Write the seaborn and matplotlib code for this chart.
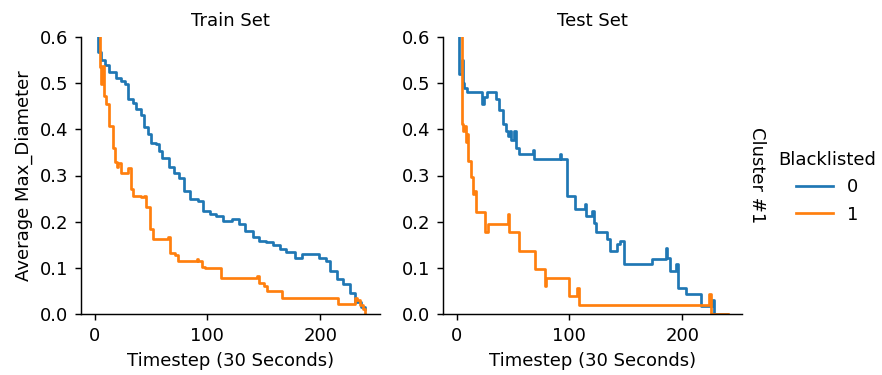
import numpy as np
import pandas as pd
import matplotlib
matplotlib.use("Agg")
import matplotlib.pyplot as plt
import seaborn as sns

# ── Data: change points (timestep, average max diameter) ──────────────────
train_0_t = [0, 3, 6, 9, 13, 19, 23, 27, 29.5, 34, 37, 41, 44, 47, 50, 54, 57, 60, 66, 70,
             75, 79, 85, 92, 96, 102, 108, 114, 122, 128, 133, 140, 146, 152, 158, 164,
             170, 178, 184, 194, 199, 205, 209, 215, 220, 226, 231, 236, 240]
train_0_v = [0.80, 0.567, 0.55, 0.54, 0.525, 0.512, 0.505, 0.498, 0.465, 0.458, 0.443,
             0.43, 0.404, 0.39, 0.371, 0.368, 0.352, 0.338, 0.318, 0.305, 0.295, 0.267,
             0.249, 0.245, 0.224, 0.216, 0.212, 0.202, 0.205, 0.195, 0.18, 0.166, 0.158,
             0.155, 0.15, 0.14, 0.135, 0.122, 0.13, 0.131, 0.122, 0.115, 0.093, 0.075,
             0.064, 0.046, 0.025, 0.015, 0.01]

train_1_t = [0, 4.5, 5.5, 7, 8.5, 10, 12.5, 16.5, 18, 19.5, 21, 23, 30, 32, 34, 41, 44,
             46, 49, 52, 65, 67, 71, 74, 91, 92, 95, 98, 112, 144, 146, 150, 153, 166,
             216, 231, 233, 235, 238, 240]
train_1_v = [0.80, 0.535, 0.498, 0.538, 0.472, 0.455, 0.407, 0.36, 0.33, 0.318, 0.327,
             0.305, 0.316, 0.271, 0.256, 0.253, 0.256, 0.231, 0.184, 0.162, 0.166, 0.133,
             0.128, 0.115, 0.12, 0.115, 0.101, 0.099, 0.079, 0.083, 0.068, 0.060, 0.050,
             0.035, 0.021, 0.035, 0.03, 0.02, 0.01, 0.0]

test_0_t = [0, 2, 2.5, 4.5, 5.5, 6.5, 9.5, 23, 24.5, 27, 35, 38, 41, 44, 46, 47, 48.5,
            51, 52.5, 55, 67.5, 68.5, 91.5, 92.5, 97.5, 105, 114, 115, 120, 122, 124,
            133, 136, 142, 145, 148.5, 173, 185.5, 186.5, 189, 194.5, 196, 203, 217,
            226.5, 228, 240]
test_0_v = [0.80, 0.65, 0.52, 0.55, 0.50, 0.49, 0.48, 0.455, 0.47, 0.48, 0.466, 0.441,
            0.412, 0.397, 0.386, 0.397, 0.376, 0.397, 0.36, 0.347, 0.355, 0.336, 0.347,
            0.336, 0.256, 0.227, 0.238, 0.213, 0.224, 0.198, 0.177, 0.162, 0.137, 0.151,
            0.158, 0.108, 0.119, 0.144, 0.122, 0.093, 0.108, 0.057, 0.043, 0.017, 0.03,
            0.0, 0.0]

test_1_t = [0, 3, 4.5, 5.5, 6.5, 8, 9, 10.5, 13, 14.5, 15.5, 17, 25, 28, 45.5, 46.5,
            55, 70, 78, 79, 99.5, 107, 108.5, 224, 225.5, 241]
test_1_v = [0.80, 0.65, 0.412, 0.397, 0.408, 0.372, 0.39, 0.332, 0.296, 0.26, 0.267,
            0.22, 0.177, 0.196, 0.216, 0.177, 0.137, 0.097, 0.061, 0.079, 0.039, 0.057,
            0.02, 0.043, 0.0, 0.0]

series = [
    ("Train Set", "0", train_0_t, train_0_v),
    ("Train Set", "1", train_1_t, train_1_v),
    ("Test Set", "0", test_0_t, test_0_v),
    ("Test Set", "1", test_1_t, test_1_v),
]

frames = []
for set_name, bl, t, v in series:
    frames.append(pd.DataFrame({
        "Set": set_name,
        "Cluster": "Cluster #1",
        "Blacklisted": bl,
        "Timestep (30 Seconds)": t,
        "Average Max_Diameter": v,
    }))
df = pd.concat(frames, ignore_index=True)

# ── Plot ───────────────────────────────────────────────────────────────────
DPI = 130
g = sns.relplot(
    data=df, kind="line",
    x="Timestep (30 Seconds)", y="Average Max_Diameter",
    col="Set", row="Cluster", hue="Blacklisted",
    col_order=["Train Set", "Test Set"], hue_order=["0", "1"],
    palette=["#1f77b4", "#ff7f0e"],
    drawstyle="steps-post", estimator=None,
    facet_kws=dict(margin_titles=True, sharey=False),
    height=2.8, aspect=1.0,
)
g.set_titles(col_template="{col_name}", row_template="{row_name}")
g.set(ylim=(0, 0.6), yticks=np.arange(0, 0.61, 0.1), xticks=[0, 100, 200])

fig = g.figure
fig.set_size_inches(882 / DPI, 375 / DPI)
fig.subplots_adjust(left=81 / 882, right=742 / 882, bottom=1 - 314 / 375,
                    top=1 - 37 / 375, wspace=0.21)
g._legend.set_bbox_to_anchor((1.012, 0.5), transform=fig.transFigure)
fig.savefig("out.png", dpi=DPI)
